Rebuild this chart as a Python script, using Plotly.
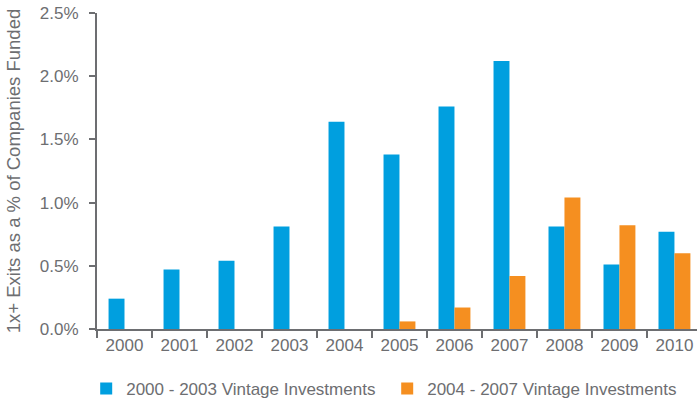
import plotly.graph_objects as go

years = ["2000", "2001", "2002", "2003", "2004", "2005", "2006", "2007", "2008", "2009", "2010"]
vintage_2000_2003 = [0.24, 0.47, 0.54, 0.81, 1.64, 1.38, 1.76, 2.12, 0.81, 0.51, 0.77]
vintage_2004_2007 = [None, None, None, None, None, 0.06, 0.17, 0.42, 1.04, 0.82, 0.60]
y_ticks = [0, 0.5, 1.0, 1.5, 2.0, 2.5]
y_tick_labels = ["0.0%", "0.5%", "1.0%", "1.5%", "2.0%", "2.5%"]

BLUE = "#009FDF"
ORANGE = "#F58F20"
GREY = "#6D6E71"
FONT = "Liberation Sans, Arial, sans-serif"

fig = go.Figure()
fig.add_trace(go.Bar(x=years, y=vintage_2000_2003, name="2000 - 2003 Vintage Investments",
                     marker=dict(color=BLUE, line=dict(width=0))))
fig.add_trace(go.Bar(x=years, y=vintage_2004_2007, name="2004 - 2007 Vintage Investments",
                     marker=dict(color=ORANGE, line=dict(width=0))))

fig.update_layout(
    width=697, height=403,
    margin=dict(l=97, r=0, t=13, b=74, autoexpand=False),
    paper_bgcolor="white", plot_bgcolor="white",
    barmode="group", bargap=0.42, bargroupgap=0,
    font=dict(family=FONT, size=17, color=GREY),
    showlegend=True,
    legend=dict(orientation="h", x=-0.018, xanchor="left", y=-0.19, yanchor="middle",
                font=dict(size=17, color=GREY), entrywidth=256, entrywidthmode="pixels",
                itemclick=False),
    xaxis=dict(type="category", range=[-0.5, 10.41], showline=True, linecolor=GREY, linewidth=2,
               ticks="outside", ticklen=7, tickcolor=GREY, tickwidth=2,
               tickson="boundaries", showgrid=False, zeroline=False,
               tickfont=dict(size=17, color=GREY)),
    yaxis=dict(range=[0, 2.5], tickvals=y_ticks, ticktext=y_tick_labels,
               showline=True, linecolor=GREY, linewidth=2,
               ticks="outside", ticklen=6, tickcolor=GREY, tickwidth=2,
               showgrid=False, zeroline=False, ticklabelstandoff=7,
               tickfont=dict(size=17, color=GREY),
               title=dict(text="1x+ Exits as a % of Companies Funded", standoff=14,
                          font=dict(size=18.5, color=GREY))),
)

fig.write_html("out.html")
